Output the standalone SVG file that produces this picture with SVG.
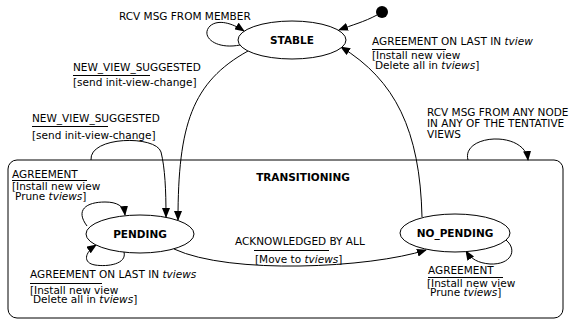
<svg xmlns="http://www.w3.org/2000/svg" width="569" height="323" viewBox="0 0 569 323">
<defs>
<marker id="ah" markerWidth="10" markerHeight="8" refX="9" refY="4" orient="auto" markerUnits="userSpaceOnUse">
<path d="M0,0 L10,4 L0,8 Z" fill="#000"/>
</marker>
<style>
text{font-family:"DejaVu Sans",Verdana,sans-serif;font-size:10.5px;fill:#000}
.b{font-weight:bold;text-anchor:middle}
.i{font-style:italic}
.st{fill:#fff;stroke:#000;stroke-width:1}
.c{fill:none;stroke:#000;stroke-width:1}
.a{fill:none;stroke:#000;stroke-width:1;marker-end:url(#ah)}
.u{stroke:#000;stroke-width:1}
</style>
</defs>
<rect width="569" height="323" fill="#fff"/>
<g id="transitioning">
<rect x="8" y="160" width="555" height="158" rx="9" class="c"/>
<text class="b" x="303" y="181">TRANSITIONING</text>
</g>
<g id="connectors">
<circle cx="382" cy="12" r="6" fill="#000"/>
<path class="a" d="M377,15 C364,22 352,25 339,30"/>
<path class="a" d="M240,45 C215,50 200,36 210,26 C218,19 232,23 244,31"/>
<path class="a" d="M248,51 C192,82 178,125 178,220"/>
<path class="a" d="M91,160 C89,136 156,135 161,152 C165,168 166,190 166,217"/>
<path class="a" d="M422,217 C420,130 395,80 341,47"/>
<path class="a" d="M468,160 C461,134 525,130 528,160"/>
<path class="a" d="M87,226 C75,210 86,202 105,202 C117,202 124,206 125,215"/>
<path class="a" d="M124,252 C127,264 108,267 95,265 C83,263 84,253 96,245"/>
<path class="a" d="M174,249 C230,275 370,268 426,250"/>
<path class="a" d="M506,240 C518,250 511,265 490,264 C478,263 471,259 466,251"/>
</g>
<g id="stable">
<ellipse cx="292" cy="40" rx="54" ry="19" class="st"/>
<text class="b" x="292" y="44">STABLE</text>
</g>
<g id="pending">
<ellipse cx="140" cy="234" rx="54" ry="19" class="st"/>
<text class="b" x="140" y="238">PENDING</text>
</g>
<g id="no_pending">
<ellipse cx="455" cy="233" rx="55" ry="19" class="st"/>
<text class="b" x="455" y="237">NO_PENDING</text>
</g>
<g id="labels">
<text x="119" y="20">RCV MSG FROM MEMBER</text>
<text x="372" y="45">AGREEMENT ON LAST IN <tspan class="i">tview</tspan></text>
<line class="u" x1="372" y1="49.5" x2="446" y2="49.5"/>
<text x="372" y="59">[Install new view</text>
<text x="375" y="69">Delete all in <tspan class="i">tviews</tspan>]</text>
<text x="73" y="71">NEW_VIEW_SUGGESTED</text>
<line class="u" x1="73" y1="75.5" x2="150" y2="75.5"/>
<text x="73" y="86">[send init-view-change]</text>
<text x="32" y="122">NEW_VIEW_SUGGESTED</text>
<line class="u" x1="32" y1="126.5" x2="108" y2="126.5"/>
<text x="32" y="139">[send init-view-change]</text>
<text x="427" y="116">RCV MSG FROM ANY NODE</text>
<text x="427" y="127">IN ANY OF THE TENTATIVE</text>
<text x="427" y="138">VIEWS</text>
<text x="12" y="178">AGREEMENT</text>
<line class="u" x1="12" y1="180.5" x2="87" y2="180.5"/>
<text x="12" y="190">[Install new view</text>
<text x="15" y="199.5">Prune <tspan class="i">tviews</tspan>]</text>
<text x="235" y="245">ACKNOWLEDGED BY ALL</text>
<line class="u" x1="254" y1="250.5" x2="329" y2="250.5"/>
<text x="255" y="263">[Move to <tspan class="i">tviews</tspan>]</text>
<text x="30" y="278">AGREEMENT ON LAST IN <tspan class="i">tviews</tspan></text>
<line class="u" x1="30" y1="283.5" x2="102" y2="283.5"/>
<text x="30" y="294">[Install new view</text>
<text x="33" y="303">Delete all in <tspan class="i">tviews</tspan>]</text>
<text x="428" y="274">AGREEMENT</text>
<line class="u" x1="428" y1="277.5" x2="503" y2="277.5"/>
<text x="427" y="286.5">[Install new view</text>
<text x="430" y="295.5">Prune <tspan class="i">tviews</tspan>]</text>
</g>
</svg>
